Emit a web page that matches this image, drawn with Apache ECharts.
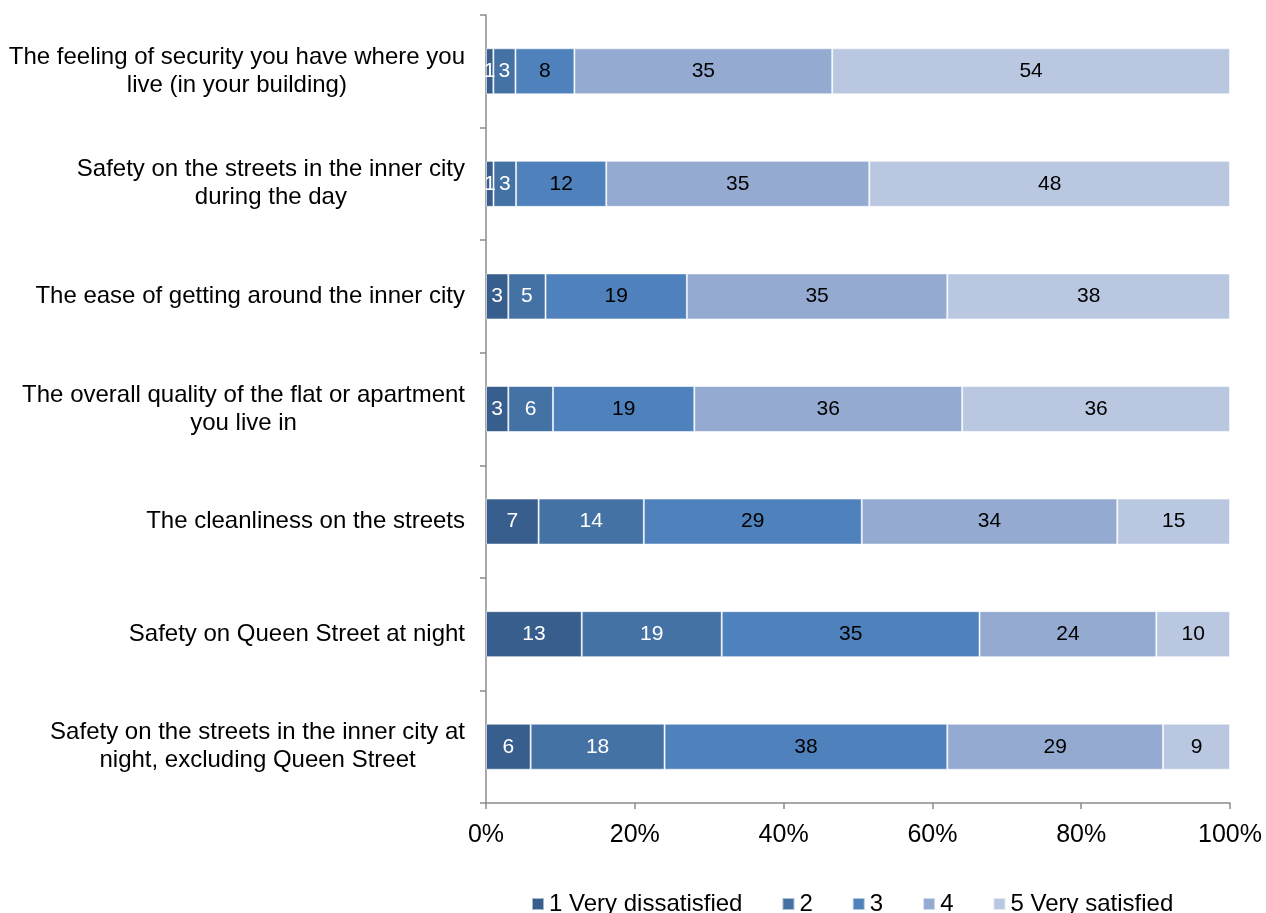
<!DOCTYPE html>
<html>
<head>
<meta charset="utf-8">
<title>Satisfaction with inner city living</title>
<script src="https://cdn.jsdelivr.net/npm/echarts@6/dist/echarts.min.js"></script>
<style>
  html, body { margin: 0; padding: 0; background: #fff; }
  #chart { width: 1266px; height: 913px; }
</style>
</head>
<body>
<div id="chart"></div>
<script>
// Survey items, top to bottom
const categories = [
  'The feeling of security you have where you\nlive (in your building)',
  'Safety on the streets in the inner city\nduring the day',
  'The ease of getting around the inner city',
  'The overall quality of the flat or apartment\nyou live in',
  'The cleanliness on the streets',
  'Safety on Queen Street at night',
  'Safety on the streets in the inner city at\nnight, excluding Queen Street'
];

// Rating levels (legend entries)
const levels = ['1 Very dissatisfied', '2', '3', '4', '5 Very satisfied'];

// Percentage of respondents per rating, one value per item
const veryDissatisfied = [1, 1, 3, 3, 7, 13, 6];
const rating2 = [3, 3, 5, 6, 14, 19, 18];
const rating3 = [8, 12, 19, 19, 29, 35, 38];
const rating4 = [35, 35, 35, 36, 34, 24, 29];
const verySatisfied = [54, 48, 38, 36, 15, 10, 9];

// X axis tick values
const xTicks = [0, 20, 40, 60, 80, 100];

const seriesValues = [veryDissatisfied, rating2, rating3, rating4, verySatisfied];
const colors = ['#385E8D', '#4472A5', '#4F81BD', '#94AAD0', '#B9C7E1'];
const labelColors = ['#ffffff', '#ffffff', '#000000', '#000000', '#000000'];
const FONT = '"Liberation Sans", Arial, Helvetica, sans-serif';

// Each bar is stacked to 100%, so shares are scaled by the row total
const rowTotals = categories.map((_, i) =>
  seriesValues.reduce((s, arr) => s + arr[i], 0));

const series = levels.map((name, k) => ({
  name: name,
  type: 'bar',
  stack: 'total',
  barWidth: 46,
  data: seriesValues[k].map((v, i) => ({ value: v / rowTotals[i] * 100, raw: v })),
  itemStyle: {
    color: colors[k],
    borderColor: 'rgba(255,255,255,0.55)',
    borderWidth: 1
  },
  label: {
    show: true,
    position: 'inside',
    color: labelColors[k],
    fontSize: 21,
    fontFamily: FONT,
    formatter: p => String(p.data.raw)
  },
  emphasis: { disabled: true }
}));

const chart = echarts.init(document.getElementById('chart'), null, { renderer: 'canvas' });

chart.setOption({
  animation: false,
  backgroundColor: '#ffffff',
  textStyle: { fontFamily: FONT },
  color: colors,
  grid: { left: 486, right: 36, top: 15, bottom: 110, containLabel: false },
  xAxis: {
    type: 'value',
    min: xTicks[0],
    max: xTicks[xTicks.length - 1],
    interval: xTicks[1] - xTicks[0],
    axisLine: { show: true, lineStyle: { color: '#8c8c8c', width: 1.5 } },
    axisTick: { show: true, length: 6, lineStyle: { color: '#8c8c8c', width: 1.5 } },
    splitLine: { show: false },
    axisLabel: {
      formatter: '{value}%',
      fontSize: 25,
      color: '#000',
      fontFamily: FONT,
      margin: 20
    }
  },
  yAxis: {
    type: 'category',
    inverse: true,
    data: categories,
    axisLine: { show: true, lineStyle: { color: '#8c8c8c', width: 1.5 } },
    axisTick: { show: true, length: 6, lineStyle: { color: '#8c8c8c', width: 1.5 } },
    axisLabel: {
      margin: 21,
      color: '#000',
      fontSize: 24,
      lineHeight: 28,
      fontFamily: FONT,
      formatter: v => v.split('\n').map(line => '{c|' + line + '}').join('\n'),
      rich: {
        c: { align: 'center', fontSize: 24, lineHeight: 28, fontFamily: FONT, color: '#000' }
      }
    }
  },
  legend: {
    data: levels,
    left: 526,
    top: 887,
    itemWidth: 12,
    itemHeight: 12,
    itemGap: 39,
    icon: 'rect',
    textStyle: { fontSize: 24, color: '#000', fontFamily: FONT }
  },
  series: series
});
</script>
</body>
</html>
